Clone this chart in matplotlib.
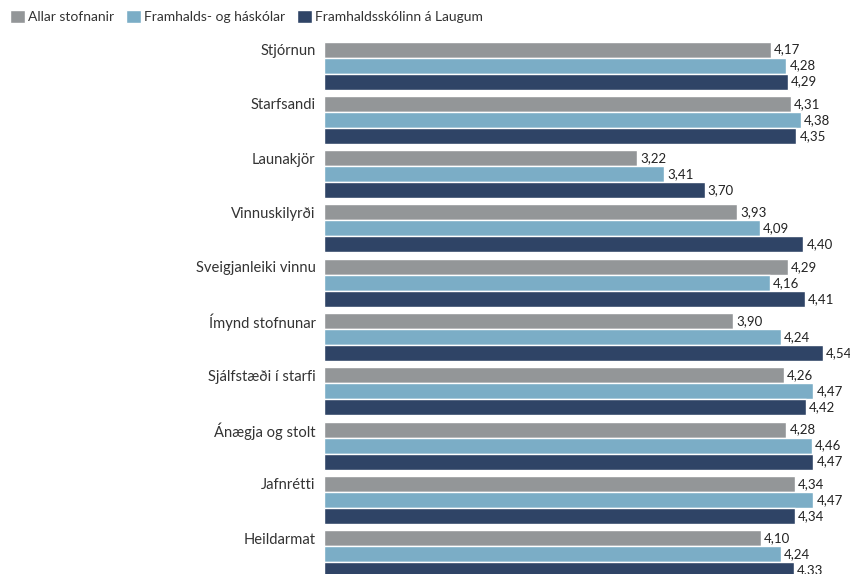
import matplotlib
matplotlib.use("Agg")
import matplotlib.pyplot as plt
import numpy as np

categories = ["Stjórnun", "Starfsandi", "Launakjör", "Vinnuskilyrði", "Sveigjanleiki vinnu",
              "Ímynd stofnunar", "Sjálfstæði í starfi", "Ánægja og stolt", "Jafnrétti", "Heildarmat"]
series_names = ["Allar stofnanir", "Framhalds- og háskólar", "Framhaldsskólinn á Laugum"]
allar = [4.17, 4.31, 3.22, 3.93, 4.29, 3.90, 4.26, 4.28, 4.34, 4.10]
framhalds = [4.28, 4.38, 3.41, 4.09, 4.16, 4.24, 4.47, 4.46, 4.47, 4.24]
laugum = [4.29, 4.35, 3.70, 4.40, 4.41, 4.54, 4.42, 4.47, 4.34, 4.33]

colors = ["#939698", "#7badc6", "#2f4466"]
plt.rcParams['font.family'] = ['Lato', 'DejaVu Sans']

fig = plt.figure(figsize=(8.5, 5.74), dpi=100)
ax = fig.add_axes([324/850, 0, 1 - 324/850, (574-30)/574])

h = 16/54.3
y = np.arange(len(categories))
for j, vals in enumerate([allar, framhalds, laugum]):
    pos = y + (j - 1) * h
    ax.barh(pos, [v - 1 for v in vals], left=1, height=h, color=colors[j],
            edgecolor="white", linewidth=1.0, label=series_names[j])
    for p, v in zip(pos, vals):
        ax.text(v + 0.022, p, f"{v:.2f}".replace(".", ","), va="center", ha="left",
                fontsize=9.5, color="#222222", clip_on=False)

ax.set_xlim(1, 1 + 526/141.0)
ax.set_ylim(9.365, -0.654)
ax.set_yticks(y - h)
ax.set_yticklabels(categories, fontsize=10.6, color="#333333")
ax.tick_params(axis="y", length=0, pad=6)
ax.set_xticks([])
for s in ax.spines.values():
    s.set_visible(False)

fig.legend(loc="upper left", bbox_to_anchor=(0.0, 1.0), ncol=3, frameon=False,
           handlelength=1.1, handleheight=1.1, handletextpad=0.25, columnspacing=0.8,
           fontsize=10, labelcolor="#333333", borderaxespad=0.3)

fig.savefig("out.png", dpi=100)
